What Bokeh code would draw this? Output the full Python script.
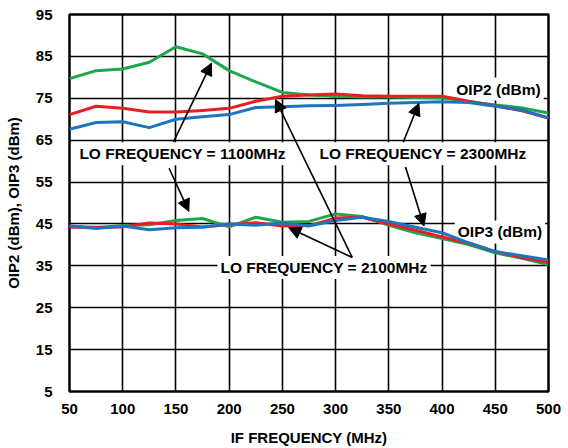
from bokeh.plotting import figure
from bokeh.models import Label, Arrow, NormalHead, FixedTicker, Range1d
from bokeh.embed import file_html
from bokeh.resources import INLINE

# ---- data ----
if_freq = [50, 75, 100, 125, 150, 175, 200, 225, 250, 275, 300, 325, 350, 375, 400, 425, 450, 475, 500]

oip2_1100 = [79.7, 81.6, 82.0, 83.6, 87.3, 85.6, 81.6, 78.9, 76.4, 75.8, 75.5, 75.3, 75.3, 75.2, 75.1, 74.2, 73.4, 72.7, 71.5]
oip2_2100 = [71.1, 73.1, 72.6, 71.7, 71.7, 72.1, 72.6, 74.3, 75.5, 75.8, 76.0, 75.6, 75.5, 75.5, 75.5, 74.3, 73.2, 72.0, 70.3]
oip2_2300 = [67.6, 69.2, 69.4, 68.0, 70.0, 70.6, 71.1, 72.8, 73.0, 73.2, 73.3, 73.5, 73.8, 74.0, 74.2, 74.0, 73.1, 72.2, 70.3]

oip3_1100 = [44.5, 44.1, 44.6, 44.8, 45.8, 46.3, 44.3, 46.6, 45.4, 45.6, 47.4, 46.8, 44.7, 42.9, 41.5, 40.1, 38.1, 36.8, 35.3]
oip3_2100 = [44.2, 44.2, 44.3, 45.2, 45.0, 44.3, 44.8, 45.3, 44.5, 44.6, 46.4, 46.6, 45.0, 43.5, 41.9, 40.4, 38.4, 37.0, 35.8]
oip3_2300 = [44.5, 43.9, 44.5, 43.6, 44.1, 44.2, 45.0, 44.7, 45.2, 44.5, 45.8, 46.6, 45.6, 44.2, 42.9, 40.5, 38.4, 37.4, 36.4]

x_ticks = [50, 100, 150, 200, 250, 300, 350, 400, 450, 500]
y_ticks = [5, 15, 25, 35, 45, 55, 65, 75, 85, 95]

# annotation texts: (text, x, y)
notes_text = ["LO FREQUENCY = 1100MHz", "LO FREQUENCY = 2300MHz", "LO FREQUENCY = 2100MHz", "OIP2 (dBm)", "OIP3 (dBm)"]
notes_x = [156.2, 382.1, 289.1, 453.0, 454.4]
notes_y = [61.75, 61.75, 34.6, 77.2, 43.1]

# arrows: start (x, y) -> tip (x, y)
arrow_x0 = [147.7, 143.6, 363.5, 365.7, 315.6, 315.6]
arrow_y0 = [64.6, 58.3, 64.5, 58.6, 37.0, 37.0]
arrow_x1 = [183.4, 162.1, 378.2, 383.0, 243.5, 256.0]
arrow_y1 = [83.4, 48.0, 73.8, 44.5, 74.7, 44.1]

GREEN = "#1aa84b"
RED = "#ec1c24"
BLUE = "#1f74bd"
FONT = "Liberation Sans"

p = figure(width=568, height=448, output_backend="svg", toolbar_location=None,
           x_range=Range1d(50, 500), y_range=Range1d(5, 95),
           min_border_left=69, min_border_right=20, min_border_top=14, min_border_bottom=52)

p.outline_line_color = "black"
p.outline_line_width = 2.5

for ax in (p.xaxis[0], p.yaxis[0]):
    ax.axis_line_color = None
    ax.major_tick_line_color = None
    ax.minor_tick_line_color = None
    ax.major_label_text_font = FONT
    ax.major_label_text_font_style = "bold"
    ax.major_label_text_font_size = "15px"
    ax.major_label_text_color = "black"
    ax.axis_label_text_font = FONT
    ax.axis_label_text_font_style = "bold"
    ax.axis_label_text_font_size = "15px"
    ax.axis_label_text_color = "black"

p.xaxis.ticker = FixedTicker(ticks=x_ticks)
p.yaxis.ticker = FixedTicker(ticks=y_ticks)
p.xaxis.axis_label = "IF FREQUENCY (MHz)"
p.yaxis.axis_label = "OIP2 (dBm), OIP3 (dBm)"
p.xaxis.major_label_standoff = 6
p.xaxis.axis_label_standoff = 12
p.yaxis.major_label_standoff = 11
p.yaxis.axis_label_standoff = 11

p.xgrid.ticker = FixedTicker(ticks=x_ticks)
p.ygrid.ticker = FixedTicker(ticks=y_ticks)
for g in (p.xgrid[0], p.ygrid[0]):
    g.grid_line_color = "black"
    g.grid_line_width = 1.6
    g.grid_line_alpha = 1.0

# text boxes (under the curves, over the grid)
for t, x, y in zip(notes_text, notes_x, notes_y):
    lab = Label(x=x, y=y, text=t, text_align="center", text_baseline="middle",
                text_font=FONT, text_font_style="bold", text_font_size="15.5px",
                text_color="black", background_fill_color="white", padding=3)
    lab.level = "underlay"
    p.add_layout(lab)

for ys, c in ((oip2_1100, GREEN), (oip2_2100, RED), (oip2_2300, BLUE),
              (oip3_1100, GREEN), (oip3_2100, RED), (oip3_2300, BLUE)):
    p.line(if_freq, ys, line_color=c, line_width=3, line_join="round")

for x0, y0, x1, y1 in zip(arrow_x0, arrow_y0, arrow_x1, arrow_y1):
    p.add_layout(Arrow(x_start=x0, y_start=y0, x_end=x1, y_end=y1,
                       line_color="black", line_width=1.6,
                       end=NormalHead(size=12, fill_color="black", line_color="black", line_width=1)))

open("out.html", "w").write(file_html(p, INLINE))
